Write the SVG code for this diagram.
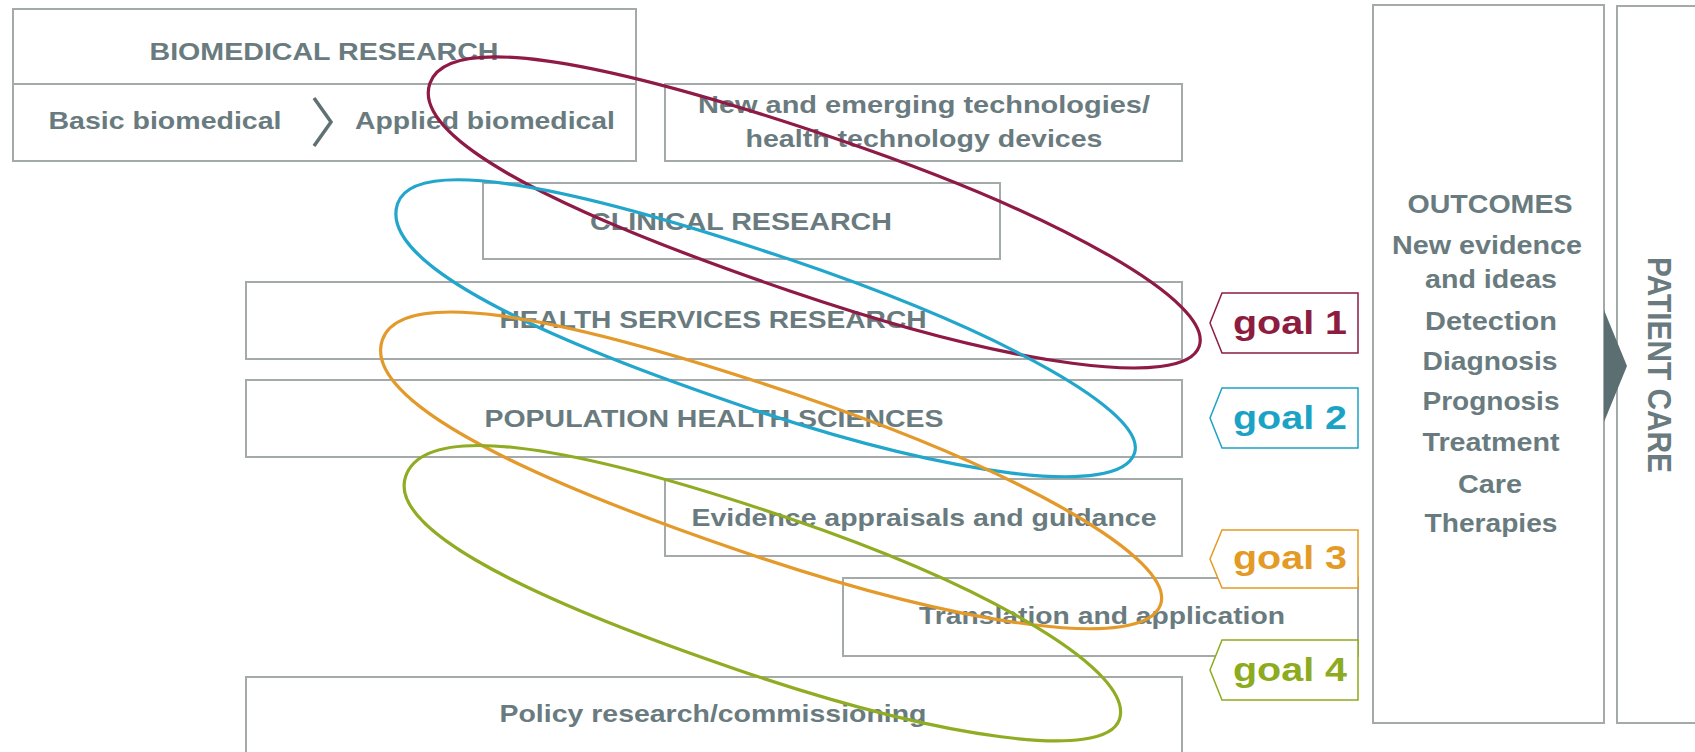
<svg xmlns="http://www.w3.org/2000/svg" width="1695" height="752" viewBox="0 0 1695 752">
<style>
.box{fill:#ffffff;stroke:#a4aaaa;stroke-width:2}
.lbl{font-family:"Liberation Sans",Arial,sans-serif;font-weight:bold;font-size:24px;fill:#697b7e;text-anchor:middle}
.out{font-family:"Liberation Sans",Arial,sans-serif;font-weight:bold;font-size:25px;fill:#697b7e;text-anchor:middle}
.tag{fill:#ffffff;stroke-width:1.5}
.gt{font-family:"Liberation Sans",Arial,sans-serif;font-weight:bold;font-size:33px;text-anchor:middle}
.ell{fill:none;stroke-width:3.2}
</style>
<rect width="1695" height="752" fill="#ffffff"/>

<g id="biomedical-research">
<rect class="box" x="13" y="9" width="623" height="152"/>
<line x1="13" y1="84" x2="636" y2="84" stroke="#a4aaaa" stroke-width="2"/>
<text class="lbl" x="324" y="60" textLength="349" lengthAdjust="spacingAndGlyphs">BIOMEDICAL RESEARCH</text>
<text class="lbl" x="165" y="129" textLength="233" lengthAdjust="spacingAndGlyphs">Basic biomedical</text>
<polyline points="314,98 331,122 314,146" fill="none" stroke="#5f7174" stroke-width="3.5"/>
<text class="lbl" x="485" y="129" textLength="260" lengthAdjust="spacingAndGlyphs">Applied biomedical</text>
</g>

<g id="new-technologies">
<rect class="box" x="665" y="84" width="517" height="77"/>
<text class="lbl" x="924" y="113" textLength="452" lengthAdjust="spacingAndGlyphs">New and emerging technologies/</text>
<text class="lbl" x="924" y="147" textLength="357" lengthAdjust="spacingAndGlyphs">health technology devices</text>
</g>

<g id="clinical-research">
<rect class="box" x="483" y="183" width="517" height="76"/>
<text class="lbl" x="741" y="230" textLength="302" lengthAdjust="spacingAndGlyphs">CLINICAL RESEARCH</text>
</g>

<g id="health-services-research">
<rect class="box" x="246" y="282" width="936" height="77"/>
<text class="lbl" x="713" y="328" textLength="427" lengthAdjust="spacingAndGlyphs">HEALTH SERVICES RESEARCH</text>
</g>

<g id="population-health-sciences">
<rect class="box" x="246" y="380" width="936" height="77"/>
<text class="lbl" x="714" y="427" textLength="459" lengthAdjust="spacingAndGlyphs">POPULATION HEALTH SCIENCES</text>
</g>

<g id="evidence-appraisals">
<rect class="box" x="665" y="479" width="517" height="77"/>
<text class="lbl" x="924" y="526" textLength="465" lengthAdjust="spacingAndGlyphs">Evidence appraisals and guidance</text>
</g>

<g id="translation-application">
<rect class="box" x="843" y="578" width="515" height="78"/>
<text class="lbl" x="1102" y="624" textLength="366" lengthAdjust="spacingAndGlyphs">Translation and application</text>
</g>

<g id="policy-research">
<rect class="box" x="246" y="677" width="936" height="80"/>
<text class="lbl" x="713" y="722" textLength="427" lengthAdjust="spacingAndGlyphs">Policy research/commissioning</text>
</g>

<g id="outcomes">
<rect class="box" x="1373" y="5" width="231" height="718"/>
<text class="out" x="1490" y="213" textLength="165" lengthAdjust="spacingAndGlyphs">OUTCOMES</text>
<text class="out" x="1487" y="254" textLength="190" lengthAdjust="spacingAndGlyphs">New evidence</text>
<text class="out" x="1491" y="288" textLength="132" lengthAdjust="spacingAndGlyphs">and ideas</text>
<text class="out" x="1491" y="330" textLength="132" lengthAdjust="spacingAndGlyphs">Detection</text>
<text class="out" x="1490" y="370" textLength="135" lengthAdjust="spacingAndGlyphs">Diagnosis</text>
<text class="out" x="1491" y="410" textLength="137" lengthAdjust="spacingAndGlyphs">Prognosis</text>
<text class="out" x="1491" y="451" textLength="137" lengthAdjust="spacingAndGlyphs">Treatment</text>
<text class="out" x="1490" y="493" textLength="64" lengthAdjust="spacingAndGlyphs">Care</text>
<text class="out" x="1491" y="532" textLength="133" lengthAdjust="spacingAndGlyphs">Therapies</text>
</g>

<g id="patient-care">
<rect class="box" x="1617" y="6" width="90" height="717"/>
<text transform="translate(1648,365) rotate(90)" x="0" y="0" font-family="'Liberation Sans',Arial,sans-serif" font-weight="bold" font-size="34" fill="#697b7e" text-anchor="middle" textLength="216" lengthAdjust="spacingAndGlyphs">PATIENT CARE</text>
</g>

<g id="connectors">
<polygon points="1604,310 1627,366 1604,422" fill="#5b6f72"/>
</g>

<g id="goal-ellipses">
<path class="ell" stroke="#8e1a45" transform="translate(815,215) rotate(18.85)" d="M406,0 C406,45.8 235.5,80 0,80 C-268.6,80 -407,52.8 -407,0 C-407,-52 -268.6,-79 0,-79 C235.5,-79 406,-45.8 406,0Z"/>
<path class="ell" stroke="#22a6cc" transform="translate(766,328.5) rotate(18.7)" d="M389,0 C389,47 225.6,81 0,81 C-256.7,81 -389,53.5 -389,0 C-389,-47.5 -256.7,-73 0,-73 C225.6,-73 389,-42.3 389,0Z"/>
<path class="ell" stroke="#e39a2a" transform="translate(770.5,472) rotate(18.77)" d="M412,0 C412,49 239,84.5 0,84.5 C-270.6,84.5 -410,55.8 -410,0 C-410,-53.8 -270.6,-81.5 0,-81.5 C239,-81.5 412,-47.3 412,0Z"/>
<path class="ell" stroke="#8fac23" transform="translate(762.5,598) rotate(18.8)" d="M377,0 C377,44 218.7,76 0,76 C-248.8,76 -377,50.2 -377,0 C-377,-55.4 -248.8,-84 0,-84 C218.7,-84 377,-48.7 377,0Z"/>
</g>

<g id="goal-1">
<polygon class="tag" points="1210,323 1222,293 1358,293 1358,353 1222,353" stroke="#8c1d40"/>
<text class="gt" x="1290" y="334" fill="#8c1d40" textLength="114" lengthAdjust="spacingAndGlyphs">goal 1</text>
</g>
<g id="goal-2">
<polygon class="tag" points="1210,418 1222,388 1358,388 1358,448 1222,448" stroke="#1ba3c6"/>
<text class="gt" x="1290" y="429" fill="#1ba3c6" textLength="114" lengthAdjust="spacingAndGlyphs">goal 2</text>
</g>
<g id="goal-3">
<polygon class="tag" points="1210,559 1222,530 1358,530 1358,588 1222,588" stroke="#e39b25"/>
<text class="gt" x="1290" y="569" fill="#e39b25" textLength="114" lengthAdjust="spacingAndGlyphs">goal 3</text>
</g>
<g id="goal-4">
<polygon class="tag" points="1210,670 1222,640 1358,640 1358,700 1222,700" stroke="#8dab1e"/>
<text class="gt" x="1290" y="681" fill="#8dab1e" textLength="114" lengthAdjust="spacingAndGlyphs">goal 4</text>
</g>
</svg>
